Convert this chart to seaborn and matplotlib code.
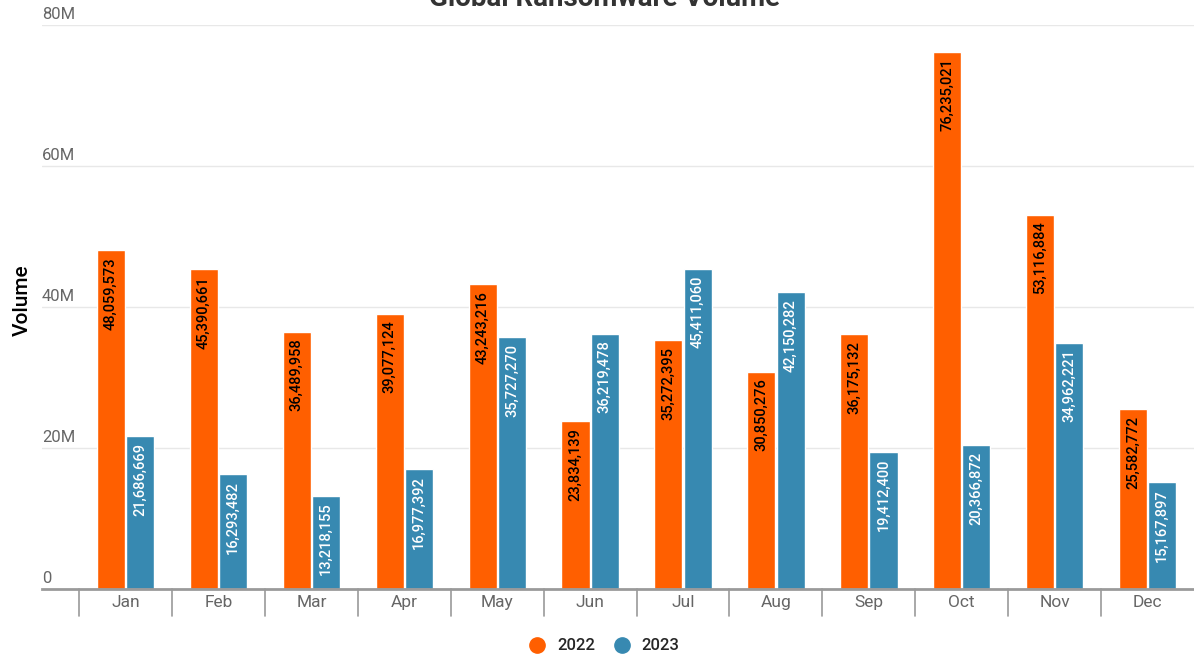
import matplotlib
matplotlib.use("Agg")
import matplotlib.pyplot as plt
import seaborn as sns
import pandas as pd
import numpy as np
from matplotlib.lines import Line2D

months = ["Jan", "Feb", "Mar", "Apr", "May", "Jun", "Jul", "Aug", "Sep", "Oct", "Nov", "Dec"]
vol_2022 = [48059573, 45390661, 36489958, 39077124, 43243216, 23834139,
            35272395, 30850276, 36175132, 76235021, 53116884, 25582772]
vol_2023 = [21686669, 16293482, 13218155, 16977392, 35727270, 36219478,
            45411060, 42150282, 19412400, 20366872, 34962221, 15167897]
years = ["2022", "2023"]
y_ticks = [0, 20e6, 40e6, 60e6, 80e6]
y_tick_labels = ["0", "20M", "40M", "60M", "80M"]

colors = {"2022": "#FF5F00", "2023": "#3789B1"}

df = pd.DataFrame({
    "Month": months * 2,
    "Year": ["2022"] * 12 + ["2023"] * 12,
    "Volume": vol_2022 + vol_2023,
})

sns.set_theme(style="white")
plt.rcParams["font.family"] = ["Roboto", "DejaVu Sans"]

fig = plt.figure(figsize=(11.94, 6.58), dpi=100)
W, H = 1194, 658
ax = fig.add_axes([42 / W, (H - 589) / H, (W - 42) / W, (589 - 25) / H])

sns.barplot(data=df, x="Month", y="Volume", hue="Year", order=months,
            hue_order=years, palette=colors, width=0.63, gap=0.04,
            saturation=1, legend=False, ax=ax)

ax.set_xlim(-0.9, 11.5)
ax.set_ylim(0, 80e6)

# gridlines
for t in y_ticks[1:]:
    ax.axhline(t, color="#e8e8e8", lw=1, zorder=0)
ax.set_yticks([])
for t, lab in zip(y_ticks, y_tick_labels):
    ax.text(-0.9, t + 0.4e6, lab, ha="left", va="bottom", fontsize=12, color="#666666",
            transform=ax.transData)

for s in ["top", "right", "left"]:
    ax.spines[s].set_visible(False)
ax.spines["bottom"].set_color("#9a9a9a")
ax.spines["bottom"].set_linewidth(2)

ax.set_xticks(range(len(months)))
ax.set_xticklabels(months, fontsize=12.5, color="#666666")
ax.tick_params(axis="x", length=0, pad=4)
ax.set_xlabel("")
ax.set_ylabel("")

# category separators below the axis
for i in range(len(months)):
    ax.plot([i - 0.5, i - 0.5], [0, -0.047], transform=ax.get_xaxis_transform(),
            color="#9a9a9a", lw=1.2, clip_on=False)

# value labels inside bars
for cont, year in zip(ax.containers, years):
    tc = "black" if year == "2022" else "white"
    for patch in cont:
        h = patch.get_height()
        xc = patch.get_x() + patch.get_width() / 2
        ax.annotate(f"{int(round(h)):,}", (xc, h), xytext=(0, -5),
                    textcoords="offset points", rotation=90, ha="center",
                    va="top", fontsize=10.5, fontweight="medium", color=tc)

fig.text(22 / W, 1 - 300 / H, "Volume", rotation=90, ha="center", va="center",
         fontsize=15, fontweight="medium", color="black")
fig.text(605 / W, 1 - 6 / H, "Global Ransomware Volume", ha="center",
         va="baseline", fontsize=20, fontweight="bold", color="#333333")

handles = [Line2D([], [], marker="o", linestyle="", markersize=11,
                  markerfacecolor=colors[y], markeredgecolor=colors[y]) for y in years]
fig.legend(handles, years, loc="center", bbox_to_anchor=(600 / W, 1 - 646 / H),
           ncol=2, frameon=False, handletextpad=0.2,
           columnspacing=0.6, prop={"weight": "medium", "size": 12})

fig.savefig("out.png", dpi=100)
